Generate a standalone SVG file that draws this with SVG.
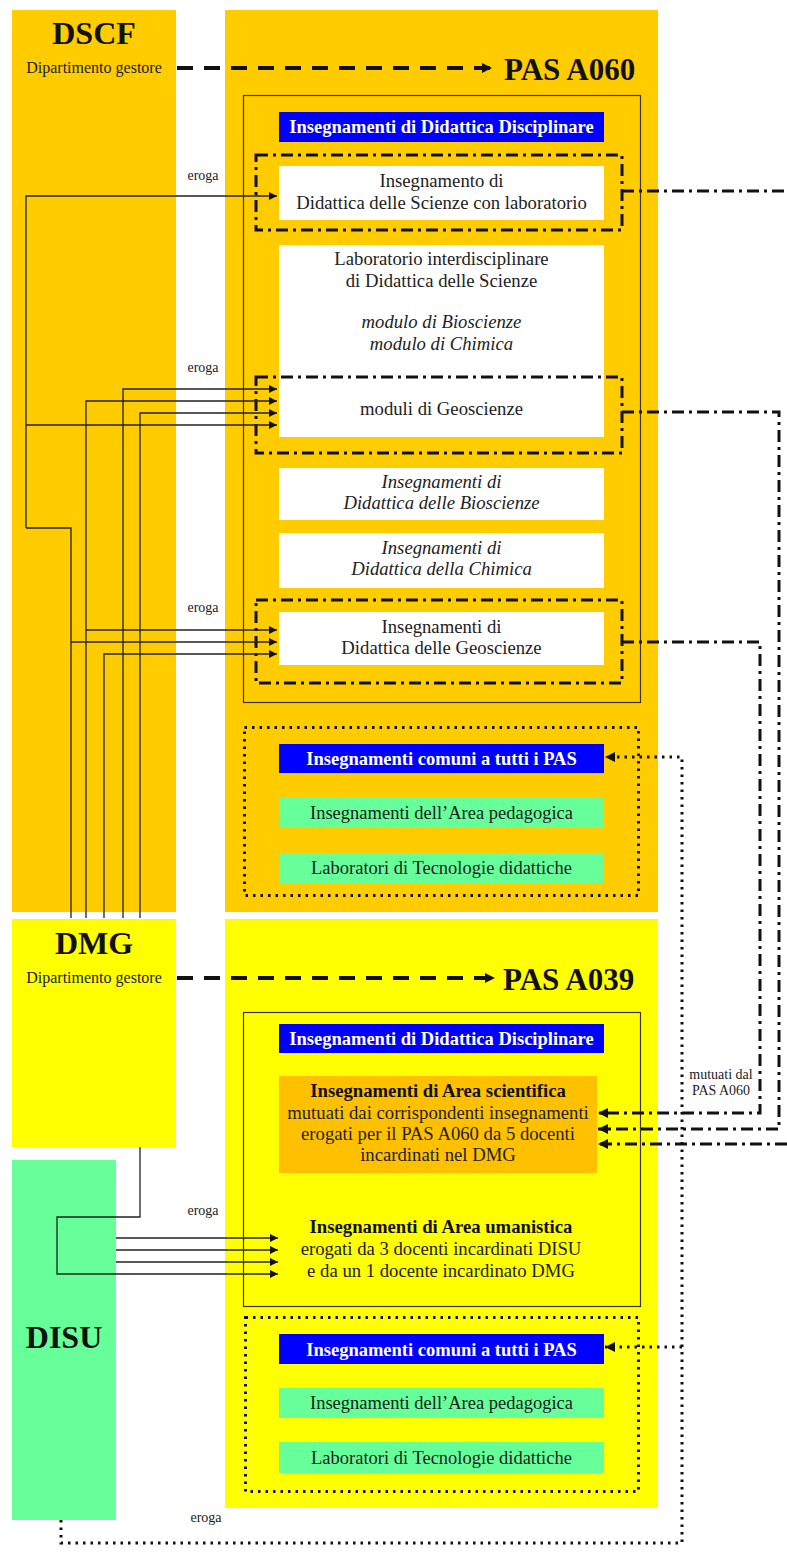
<svg xmlns="http://www.w3.org/2000/svg" width="787" height="1552" viewBox="0 0 787 1552">
<style>
text{font-family:"Liberation Serif","Times New Roman",serif;fill:#222;text-anchor:middle}
.big{font-size:32px;font-weight:bold;fill:#111}
.pas{font-size:31px;font-weight:bold;fill:#111;text-anchor:start}
.sub{font-size:16px}
.hd{font-size:18.5px;font-weight:bold;fill:#fff}
.bx{font-size:18.7px}
.it{font-style:italic}
.b{font-weight:bold;fill:#111}
.gr{font-size:18.5px}
.sm{font-size:14px}
.orange{fill:#FFCC00}
.yellow{fill:#FFFF00}
.green{fill:#66FF99}
.blue{fill:#0000FF}
.white{fill:#FFFFFF}
.border{fill:none;stroke:#3a3320;stroke-width:1.2}
.dd{fill:none;stroke:#111;stroke-width:3;stroke-dasharray:12 5 3 5}
.dot{fill:none;stroke:#111;stroke-width:3;stroke-dasharray:2.5 5}
.thin{fill:none;stroke:#222;stroke-width:1.3}
.dash{fill:none;stroke:#111;stroke-width:4;stroke-dasharray:16 11}
</style>
<defs>
<marker id="ah" viewBox="0 0 10 10" refX="10" refY="5" markerWidth="9" markerHeight="8" markerUnits="userSpaceOnUse" orient="auto"><path d="M0,0 L10,5 L0,10 z" fill="#111"/></marker>
<marker id="ahb" viewBox="0 0 10 10" refX="10" refY="5" markerWidth="11" markerHeight="10" markerUnits="userSpaceOnUse" orient="auto"><path d="M0,0 L10,5 L0,10 z" fill="#111"/></marker>
</defs>
<rect width="787" height="1552" fill="#fff"/>

<g id="dscf">
<rect class="orange" x="12" y="10" width="164" height="902"/>
<text class="big" x="94" y="44">DSCF</text>
<text class="sub" x="94" y="73">Dipartimento gestore</text>
</g>

<g id="pas-a060">
<rect class="orange" x="225" y="10" width="433" height="902"/>
<text class="pas" x="504" y="80">PAS A060</text>
<rect class="border" x="243.5" y="95.5" width="397" height="607"/>
</g>

<g id="a060-header">
<rect class="blue" x="279" y="112" width="325" height="30"/>
<text class="hd" x="441.5" y="133">Insegnamenti di Didattica Disciplinare</text>
</g>

<g id="a060-scienze-lab">
<rect class="white" x="279" y="166" width="325" height="54"/>
<text class="bx" x="441.5" y="187">Insegnamento di</text>
<text class="bx" x="441.5" y="209">Didattica delle Scienze con laboratorio</text>
<rect class="dd" x="256" y="155" width="366" height="75"/>
</g>

<g id="a060-lab-interdisciplinare">
<rect class="white" x="279" y="245" width="325" height="192"/>
<text class="bx" x="441.5" y="265">Laboratorio interdisciplinare</text>
<text class="bx" x="441.5" y="287">di Didattica delle Scienze</text>
<text class="bx it" x="441.5" y="328">modulo di Bioscienze</text>
<text class="bx it" x="441.5" y="350">modulo di Chimica</text>
</g>

<g id="a060-moduli-geo">
<text class="bx" x="441.5" y="415">moduli di Geoscienze</text>
<rect class="dd" x="256" y="377" width="366" height="76"/>
</g>

<g id="a060-bio">
<rect class="white" x="279" y="468" width="325" height="52"/>
<text class="bx it" x="441.5" y="488">Insegnamenti di</text>
<text class="bx it" x="441.5" y="509">Didattica delle Bioscienze</text>
</g>

<g id="a060-chim">
<rect class="white" x="279" y="533" width="325" height="55"/>
<text class="bx it" x="441.5" y="554">Insegnamenti di</text>
<text class="bx it" x="441.5" y="575">Didattica della Chimica</text>
</g>

<g id="a060-geo">
<rect class="white" x="279" y="612" width="325" height="53"/>
<text class="bx" x="441.5" y="633">Insegnamenti di</text>
<text class="bx" x="441.5" y="654">Didattica delle Geoscienze</text>
<rect class="dd" x="256" y="600" width="366" height="83"/>
</g>

<g id="a060-comuni">
<rect class="dot" x="244.5" y="727.5" width="394" height="168"/>
<rect class="blue" x="279" y="744" width="325" height="29"/>
<text class="hd" x="441.5" y="765">Insegnamenti comuni a tutti i PAS</text>
<rect class="green" x="279" y="798" width="325" height="30"/>
<text class="gr" x="441.5" y="819">Insegnamenti dell’Area pedagogica</text>
<rect class="green" x="279" y="853" width="325" height="30"/>
<text class="gr" x="441.5" y="874">Laboratori di Tecnologie didattiche</text>
</g>

<g id="dmg">
<rect class="yellow" x="12" y="919" width="164" height="228"/>
<text class="big" x="94" y="954">DMG</text>
<text class="sub" x="94" y="983">Dipartimento gestore</text>
</g>

<g id="pas-a039">
<rect class="yellow" x="225" y="919" width="433" height="589"/>
<text class="pas" x="503" y="990">PAS A039</text>
<rect class="border" x="243.5" y="1012.5" width="397" height="294"/>
</g>

<g id="a039-header">
<rect class="blue" x="279" y="1024" width="325" height="29"/>
<text class="hd" x="441.5" y="1045">Insegnamenti di Didattica Disciplinare</text>
</g>

<g id="a039-scientifica">
<rect fill="#FFC000" x="279" y="1076" width="318" height="97"/>
<text class="bx b" x="438" y="1097">Insegnamenti di Area scientifica</text>
<text class="bx" x="438" y="1119">mutuati dai corrispondenti insegnamenti</text>
<text class="bx" x="438" y="1140">erogati per il PAS A060 da 5 docenti</text>
<text class="bx" x="438" y="1161">incardinati nel DMG</text>
</g>

<g id="a039-umanistica">
<text class="bx b" x="441" y="1233">Insegnamenti di Area umanistica</text>
<text class="bx" x="441" y="1255">erogati da 3 docenti incardinati DISU</text>
<text class="bx" x="441" y="1277">e da un 1 docente incardinato DMG</text>
</g>

<g id="a039-comuni">
<rect class="dot" x="245.5" y="1317.5" width="393" height="174"/>
<rect class="blue" x="279" y="1334" width="325" height="30"/>
<text class="hd" x="441.5" y="1356">Insegnamenti comuni a tutti i PAS</text>
<rect class="green" x="279" y="1388" width="325" height="30"/>
<text class="gr" x="441.5" y="1409">Insegnamenti dell’Area pedagogica</text>
<rect class="green" x="279" y="1442" width="325" height="31"/>
<text class="gr" x="441.5" y="1464">Laboratori di Tecnologie didattiche</text>
</g>

<g id="disu">
<rect class="green" x="12" y="1160" width="104" height="360"/>
<text class="big" x="64" y="1348">DISU</text>
</g>

<g id="connectors">
<path class="dash" d="M177,68 H492" marker-end="url(#ahb)"/>
<path class="dash" d="M177,978 H495" marker-end="url(#ahb)"/>

<path class="thin" d="M26,528 V196 H277" marker-end="url(#ah)"/>
<path class="thin" d="M26,425 H277" marker-end="url(#ah)"/>
<path class="thin" d="M26,528 H71 V918"/>
<path class="thin" d="M71,642 H277" marker-end="url(#ah)"/>
<path class="thin" d="M86,918 V401 H277" marker-end="url(#ah)"/>
<path class="thin" d="M86,630 H277" marker-end="url(#ah)"/>
<path class="thin" d="M104,918 V654 H277" marker-end="url(#ah)"/>
<path class="thin" d="M123,918 V389 H277" marker-end="url(#ah)"/>
<path class="thin" d="M140,918 V413 H277" marker-end="url(#ah)"/>

<path class="thin" d="M140,1147 V1217 H57 V1274 H278" marker-end="url(#ah)"/>
<path class="thin" d="M116,1238 H278" marker-end="url(#ah)"/>
<path class="thin" d="M116,1250 H278" marker-end="url(#ah)"/>
<path class="thin" d="M116,1262 H278" marker-end="url(#ah)"/>

<path class="dd" d="M622,191 H787"/>
<path class="dd" d="M622,412 H779 V1129 H598" marker-end="url(#ahb)"/>
<path class="dd" d="M622,642 H760 V1113 H598" marker-end="url(#ahb)"/>
<path class="dd" d="M787,1144 H598" marker-end="url(#ahb)"/>

<path class="dot" d="M61,1520 V1543 H682 V757 H605" marker-end="url(#ahb)"/>
<path class="dot" d="M682,1347 H605" marker-end="url(#ahb)"/>
</g>

<g id="labels">
<text class="sm" x="203" y="180">eroga</text>
<text class="sm" x="203" y="372">eroga</text>
<text class="sm" x="203" y="612">eroga</text>
<text class="sm" x="203" y="1215">eroga</text>
<text class="sm" x="206" y="1522">eroga</text>
<text class="sm" x="721" y="1079">mutuati dal</text>
<text class="sm" x="721" y="1095">PAS A060</text>
</g>
</svg>
